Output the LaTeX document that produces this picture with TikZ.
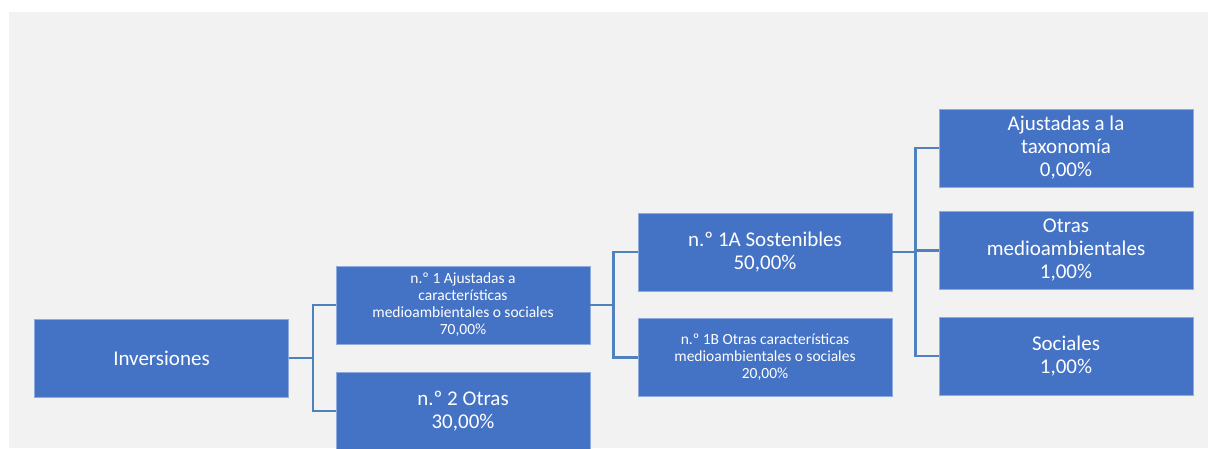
\documentclass[tikz,border=0pt]{standalone}
\usepackage{fontspec}
\setmainfont{Carlito}
\usepackage{tikz}
\usetikzlibrary{positioning, calc}
\definecolor{bgray}{HTML}{F2F2F2}
\definecolor{bfill}{HTML}{4472C4}
\definecolor{bedge}{HTML}{8FAADC}
\definecolor{lnblue}{HTML}{4F81BD}
\tikzset{
  blk/.style  = {draw=bedge, line width=0.8pt, fill=bfill, text=white,
                 minimum width=254pt, minimum height=78pt, inner sep=2pt,
                 align=center, font=\fontsize{21}{23}\selectfont},
  blks/.style = {blk, font=\fontsize{15.5}{17}\selectfont},
  ln/.style   = {draw=lnblue, line width=2.5pt},
}
\begin{document}
\begin{tikzpicture}[x=1pt, y=1pt]
    \clip (0,0) rectangle (1208,448);
    \fill[bgray] (9,0) rectangle (1208,436);
    \node[blk]  (inv) at (161.5,90)  {Inversiones};
    \node[blks] (n1)  at (463,143)   {n.º 1 Ajustadas a\\características\\medioambientales o sociales\\70,00\%};
    \node[blk]  (n2)  at (463,37)    {n.º 2 Otras\\30,00\%};
    \node[blk]  (n1a) at (765,196)   {n.º 1A Sostenibles\\50,00\%};
    \node[blks] (n1b) at (765,90.5)  {n.º 1B Otras características\\medioambientales o sociales\\20,00\%};
    \node[blk]  (tax) at (1066,300)  {Ajustadas a la\\taxonomía\\0,00\%};
    \node[blk]  (oma) at (1066,197.5){Otras\\medioambientales\\1,00\%};
    \node[blk]  (soc) at (1066,92)   {Sociales\\1,00\%};
    % connectors
    \draw[ln] (inv.east) -- ++(24,0) |- (n1.west);
    \draw[ln] (inv.east) -- ++(24,0) |- (n2.west);
    \draw[ln] (n1.east) -- ++(23,0) |- (n1a.west);
    \draw[ln] (n1.east) -- ++(23,0) |- (n1b.west);
    \draw[ln] (n1a.east) -- ++(23,0) |- (tax.west);
    \draw[ln] (n1a.east) -- ++(23,0) |- (oma.west);
    \draw[ln] (n1a.east) -- ++(23,0) |- (soc.west);
\end{tikzpicture}
\end{document}
